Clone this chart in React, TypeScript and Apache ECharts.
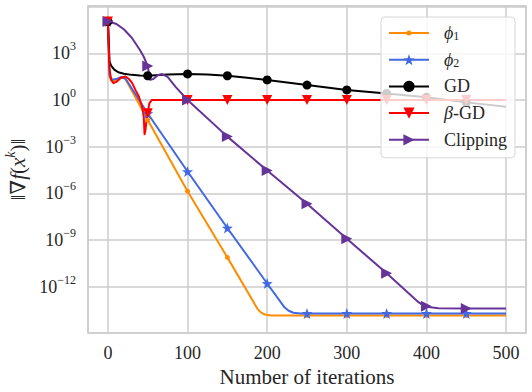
import React, { useEffect, useRef } from 'react';
import * as echarts from 'echarts';

// ---------- data ----------
const markerIters = [0, 50, 100, 150, 200, 250, 300, 350, 400, 450];

const phi1Iters = [0, 2, 5, 10, 17, 22, 47, 50, 100, 150, 188, 192, 197, 205, 250, 300, 350, 400, 450, 500];
const phi1Vals = [1.1e5, 3e1, 1.6e1, 1.9e1, 2.8e1, 2.2e1, 1e-1, 5.2e-2, 1.35e-6, 7.6e-11, 3.6e-14, 2.2e-14, 1.6e-14, 1.4e-14, 1.4e-14, 1.4e-14, 1.4e-14, 1.4e-14, 1.4e-14, 1.4e-14];

const phi2Iters = [0, 2, 5, 10, 17, 22, 50, 100, 150, 200, 222, 227, 233, 242, 250, 300, 350, 400, 450, 500];
const phi2Vals = [1.1e5, 4e1, 2e1, 2.2e1, 3e1, 2.4e1, 1.35e-1, 2.5e-5, 5.9e-9, 1.6e-12, 4.5e-14, 2.8e-14, 2.1e-14, 1.9e-14, 1.9e-14, 1.9e-14, 1.9e-14, 1.9e-14, 1.9e-14, 1.9e-14];

const gdIters = [0, 2, 4, 8, 13, 20, 30, 40, 50, 75, 100, 125, 150, 175, 200, 250, 300, 350, 400, 450, 500];
const gdVals = [1.1e5, 3e2, 1.6e2, 9e1, 6e1, 4.8e1, 4.1e1, 3.7e1, 3.6e1, 4.3e1, 4.7e1, 4.3e1, 3.6e1, 2.7e1, 1.95e1, 9.1, 4.4, 2.6, 1.5, 7e-1, 3.7e-1];

const betaIters = [0, 2, 4, 7, 11, 16, 22, 26, 30, 35, 39, 43, 45, 46, 47, 48, 50, 52, 55, 100, 150, 200, 250, 300, 350, 400, 450, 500];
const betaVals = [1.1e5, 1e2, 2e1, 1.2e1, 1.5e1, 2.6e1, 3.2e1, 2.3e1, 1.35e1, 4, 1.6, 3.5e-1, 8e-2, 6.3e-3, 1e-2, 3e-2, 1.4e-1, 6e-1, 1, 1, 1, 1, 1, 1, 1, 1, 1, 1];

const clipIters = [0, 10, 20, 30, 40, 45, 50, 53, 57, 63, 68, 75, 85, 100, 150, 200, 250, 300, 350, 390, 396, 400, 405, 415, 450, 500];
const clipVals = [1.1e5, 8e4, 3.5e4, 1e4, 1.7e3, 6e2, 1.5e2, 2e1, 2.2e1, 4e1, 4.6e1, 3e1, 7, 1, 4.4e-3, 2.9e-5, 2.1e-7, 1.2e-9, 7.2e-12, 1e-13, 6.3e-14, 5.5e-14, 4.7e-14, 4.1e-14, 4e-14, 4e-14];

const xTickLabels = ['0', '100', '200', '300', '400', '500'];
const yTickExponents = [-12, -9, -6, -3, 0, 3];
const seriesNames = ['phi1', 'phi2', 'GD', 'beta', 'Clipping'];
const legendLabels: Record<string, string> = {
  phi1: '{i|ϕ}{sub|1}',
  phi2: '{i|ϕ}{sub|2}',
  GD: '{n|GD}',
  beta: '{i|β}{n|-GD}',
  Clipping: '{n|Clipping}',
};

// ---------- styles ----------
const FONT = "'Liberation Serif', 'DejaVu Serif', serif";
const TEXT = '#262626';
const GRID = '#cccccc';

const starPath = (() => {
  const pts: string[] = [];
  for (let k = 0; k < 10; k++) {
    const r = k % 2 === 0 ? 10 : 4;
    const a = -Math.PI / 2 + (k * Math.PI) / 5;
    pts.push(`${(10 + r * Math.cos(a)).toFixed(2)} ${(10 + r * Math.sin(a)).toFixed(2)}`);
  }
  return 'path://M' + pts.join('L') + 'Z';
})();
const smallDot = 'path://M0 0M20 20M5.5 10A4.5 4.5 0 1 1 14.5 10A4.5 4.5 0 1 1 5.5 10Z';
const triDown = 'path://M0 0L20 0L10 18Z';
const triRight = 'path://M0 0L18 10L0 20Z';

function build(xs: number[], ys: number[]) {
  return xs.map((x, i) =>
    markerIters.includes(x) ? { value: [x, ys[i]] } : { value: [x, ys[i]], symbol: 'none' }
  );
}

function lineSeries(name: string, xs: number[], ys: number[], color: string, symbol: string, size: number | number[]) {
  return {
    name,
    type: 'line',
    data: build(xs, ys),
    smooth: false,
    symbol,
    symbolSize: size,
    showSymbol: true,
    showAllSymbol: true,
    lineStyle: { color, width: 2, join: 'round' },
    itemStyle: { color, borderWidth: 0 },
    emphasis: { disabled: true },
  };
}

const option = {
  animation: false,
  backgroundColor: '#ffffff',
  grid: {
    left: 88,
    right: 6,
    top: 6,
    bottom: 59,
    show: true,
    borderColor: GRID,
    borderWidth: 1.5,
    containLabel: false,
    outerBoundsMode: 'none',
  },
  xAxis: {
    type: 'value',
    min: -25,
    max: 525,
    axisLine: { show: false },
    axisTick: { show: false },
    splitLine: { show: true, lineStyle: { color: GRID, width: 1.5 } },
    axisLabel: {
      color: TEXT,
      fontFamily: FONT,
      fontSize: 18,
      margin: 11,
      showMinLabel: false,
      showMaxLabel: false,
      formatter: (v: number) => (xTickLabels.includes(String(v)) ? String(v) : ''),
    },
    name: 'Number of iterations',
    nameLocation: 'middle',
    nameGap: 22,
    nameTextStyle: { color: TEXT, fontFamily: FONT, fontSize: 21 },
  },
  yAxis: {
    type: 'log',
    logBase: 1000,
    min: 1.047e-15,
    max: 1.096e6,
    axisLine: { show: false },
    axisTick: { show: false },
    splitLine: { show: true, lineStyle: { color: GRID, width: 1.5 } },
    axisLabel: {
      margin: 12,
      formatter: (v: number) => {
        const l = Math.log10(v);
        const e = Math.round(l);
        if (Math.abs(l - e) > 0.01 || !yTickExponents.includes(e)) return '';
        return `{b|10}{s|${e < 0 ? '−' : ''}${Math.abs(e)}}`;
      },
      rich: {
        b: { fontSize: 18, fontFamily: FONT, color: TEXT, lineHeight: 26 },
        s: { fontSize: 12, fontFamily: FONT, color: TEXT, lineHeight: 14, verticalAlign: 'top' },
      },
    },
    name: '{n|‖∇}{i|f}{n|(}{i|x}{s|k}{n|)‖}',
    nameLocation: 'middle',
    nameRotate: 90,
    nameGap: 53,
    nameTextStyle: {
      rich: {
        n: { fontSize: 21, fontFamily: FONT, color: TEXT, lineHeight: 28 },
        i: { fontSize: 21, fontFamily: FONT, color: TEXT, lineHeight: 28, fontStyle: 'italic' },
        s: { fontSize: 14, fontFamily: FONT, color: TEXT, lineHeight: 15, verticalAlign: 'top', fontStyle: 'italic' },
      },
    },
  },
  legend: {
    data: seriesNames,
    orient: 'vertical',
    right: 17,
    top: 17,
    itemWidth: 40,
    itemHeight: 14,
    itemGap: 8.7,
    padding: [7, 8, 9, 7],
    backgroundColor: 'rgba(255,255,255,0.8)',
    borderColor: '#d6d6d6',
    borderWidth: 1,
    borderRadius: 4,
    formatter: (name: string) => legendLabels[name] || name,
    textStyle: {
      padding: [0, 0, 0, 10],
      rich: {
        n: { fontSize: 18, fontFamily: FONT, color: TEXT, lineHeight: 18 },
        i: { fontSize: 18, fontFamily: FONT, color: TEXT, lineHeight: 18, fontStyle: 'italic' },
        sub: { fontSize: 12, fontFamily: FONT, color: TEXT, lineHeight: 12, verticalAlign: 'bottom' },
      },
    },
  },
  series: [
    lineSeries('phi1', phi1Iters, phi1Vals, '#ff8c00', smallDot, 11),
    lineSeries('phi2', phi2Iters, phi2Vals, '#4169e1', starPath, 11),
    lineSeries('GD', gdIters, gdVals, '#000000', 'circle', 9),
    lineSeries('beta', betaIters, betaVals, '#ff0000', triDown, 10),
    lineSeries('Clipping', clipIters, clipVals, '#663399', triRight, 11),
  ],
};

export default function App() {
  const ref = useRef<HTMLDivElement>(null);
  useEffect(() => {
    if (!ref.current) return;
    const chart = echarts.init(ref.current, null, { renderer: 'svg' });
    chart.setOption(option as any);
    return () => chart.dispose();
  }, []);
  return (
    <div
      ref={ref}
      style={{ position: 'fixed', left: 0, top: 0, width: 532, height: 392, background: '#fff' }}
    />
  );
}
